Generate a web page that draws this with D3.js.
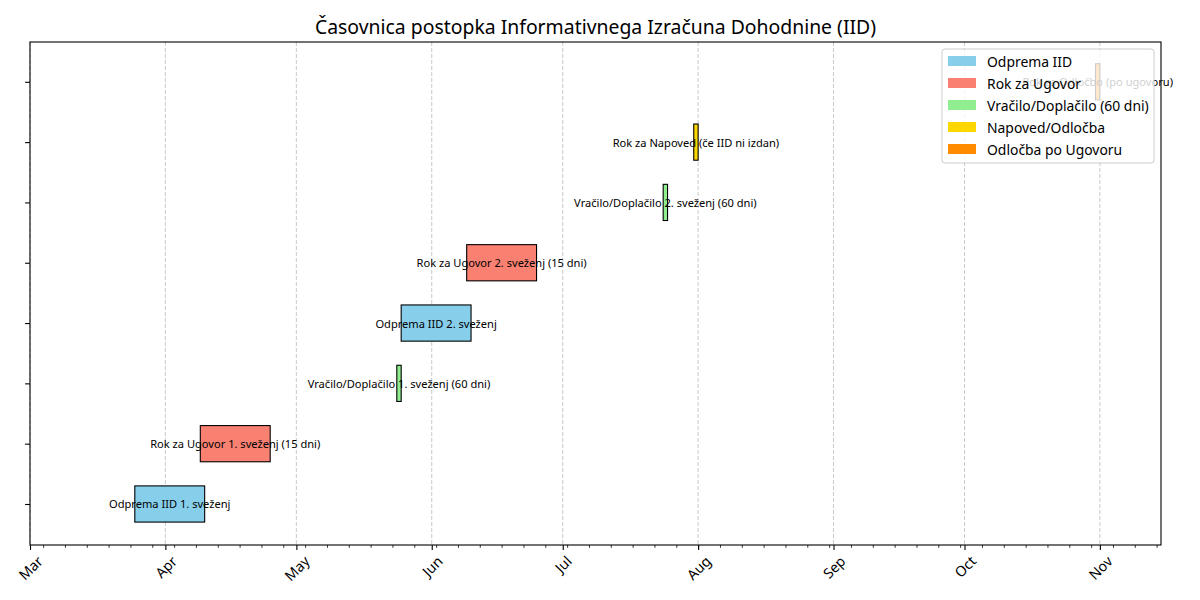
<!DOCTYPE html>
<html>
<head>
<meta charset="utf-8">
<script src="https://cdn.jsdelivr.net/npm/d3@7"></script>
<style>
  body { margin: 0; background: #fff; }
  svg { font-family: "Noto Sans", "DejaVu Sans", sans-serif; }
</style>
</head>
<body>
<svg id="chart" width="1200" height="600"></svg>
<script>
// task labels, one per row (bottom to top)
var taskLabels = [
    "Odprema IID 1. sveženj",
    "Rok za Ugovor 1. sveženj (15 dni)",
    "Vračilo/Doplačilo 1. sveženj (60 dni)",
    "Odprema IID 2. sveženj",
    "Rok za Ugovor 2. sveženj (15 dni)",
    "Vračilo/Doplačilo 2. sveženj (60 dni)",
    "Rok za Napoved (če IID ni izdan)",
    "Rok za Odločbo (po ugovoru)"
];
var startDates = ["2024-03-25", "2024-04-09", "2024-05-24", "2024-05-25",
                  "2024-06-09", "2024-07-24", "2024-07-31", "2024-10-31"];
var durations = [16, 16, 1, 16, 16, 1, 1, 1];
var taskTypes = [0, 1, 2, 0, 1, 2, 3, 4];

// legend
var typeNames = ["Odprema IID", "Rok za Ugovor", "Vračilo/Doplačilo (60 dni)",
                 "Napoved/Odločba", "Odločba po Ugovoru"];
var typeColors = ["#87CEEB", "#FA8072", "#90EE90", "#FFD700", "#FF8C00"];

var monthTicks = ["2024-03-01", "2024-04-01", "2024-05-01", "2024-06-01", "2024-07-01",
                  "2024-08-01", "2024-09-01", "2024-10-01", "2024-11-01"];
var xDomain = ["2024-03-01", "2024-11-15"];

var title = "Časovnica postopka Informativnega Izračuna Dohodnine (IID)";

var parse = d3.utcParse("%Y-%m-%d");

var margin = {left: 30, right: 1161, top: 42, bottom: 545};

var x = d3.scaleUtc()
    .domain(xDomain.map(parse))
    .range([margin.left, margin.right]);

var y = d3.scaleLinear()
    .domain([-0.68, taskLabels.length - 1 + 0.66])
    .range([margin.bottom, margin.top]);

var svg = d3.select("#chart");

var tasks = taskLabels.map(function (d, i) {
    var s = parse(startDates[i]);
    return {label: d, start: s, end: d3.utcDay.offset(s, durations[i]), type: taskTypes[i], row: i};
});

// grid (majors only)
var majors = monthTicks.map(parse);
svg.append("g")
    .selectAll("line")
    .data(majors)
    .enter()
    .append("line")
    .attr("x1", d => x(d)).attr("x2", d => x(d))
    .attr("y1", margin.top).attr("y2", margin.bottom)
    .attr("stroke", "#b0b0b0")
    .attr("stroke-opacity", 0.7)
    .attr("stroke-width", 1)
    .attr("stroke-dasharray", "4,2");

// bars
var barH = y(0) - y(0.6);
svg.append("g")
    .selectAll("rect")
    .data(tasks)
    .enter()
    .append("rect")
    .attr("x", d => x(d.start))
    .attr("width", d => x(d.end) - x(d.start))
    .attr("y", d => y(d.row + 0.3))
    .attr("height", barH)
    .attr("fill", d => typeColors[d.type])
    .attr("stroke", "#000")
    .attr("stroke-width", 1.1);

// bar labels
svg.append("g")
    .selectAll("text")
    .data(tasks)
    .enter()
    .append("text")
    .attr("x", d => (x(d.start) + x(d.end)) / 2)
    .attr("y", d => y(d.row))
    .attr("text-anchor", "middle")
    .attr("dominant-baseline", "central")
    .style("font-size", "11.1px")
    .attr("fill", "#000")
    .text(d => d.label);

// x axis: minor ticks every 5 days
var minorStart = parse("2024-03-04");
var minors = d3.range(0, 60).map(k => d3.utcDay.offset(minorStart, 5 * k))
    .filter(d => d <= x.domain()[1]);

var xAxisG = svg.append("g")
    .attr("transform", "translate(0," + margin.bottom + ")");
xAxisG.call(d3.axisBottom(x).tickValues(minors).tickSize(2.8).tickFormat(""))
    .call(g => g.select(".domain").remove());
xAxisG.selectAll("line").attr("stroke-width", 0.8);

var xMajor = svg.append("g")
    .attr("transform", "translate(0," + margin.bottom + ")")
    .call(d3.axisBottom(x).tickValues(majors).tickSize(4.9).tickFormat(d3.utcFormat("%b")));
xMajor.select(".domain").remove();
xMajor.selectAll("line").attr("stroke-width", 1.1);
xMajor.selectAll("text")
    .style("font-size", "14.2px")
    .style("font-family", "\"Noto Sans\", sans-serif")
    .attr("fill", "#000")
    .each(function () {
        var t = d3.select(this);
        var w = this.getComputedTextLength();
        var h = 14;
        var cy = 4.9 + 3.5 + (w + h) * Math.SQRT1_2 / 2;
        t.attr("y", null).attr("dy", null)
         .attr("text-anchor", "middle")
         .attr("dominant-baseline", "central")
         .attr("transform", "translate(0," + cy + ") rotate(-45)");
    });

// y axis ticks (no labels)
var yAxis = svg.append("g")
    .attr("transform", "translate(" + margin.left + ",0)")
    .call(d3.axisLeft(y).tickValues(d3.range(taskLabels.length)).tickSize(4.9).tickFormat(""));
yAxis.select(".domain").remove();
yAxis.selectAll("line").attr("stroke-width", 1.1);

// frame
svg.append("rect")
    .attr("x", margin.left).attr("y", margin.top)
    .attr("width", margin.right - margin.left)
    .attr("height", margin.bottom - margin.top)
    .attr("fill", "none")
    .attr("stroke", "#000")
    .attr("stroke-width", 1.1);

// title
svg.append("text")
    .attr("x", (margin.left + margin.right) / 2)
    .attr("y", 34)
    .attr("text-anchor", "middle")
    .style("font-size", "19.4px")
    .attr("fill", "#000")
    .text(title);

// legend
var lg = svg.append("g").attr("transform", "translate(942,49)");
lg.append("rect")
    .attr("width", 212).attr("height", 114)
    .attr("rx", 3).attr("ry", 3)
    .attr("fill", "#fff").attr("fill-opacity", 0.8)
    .attr("stroke", "#cccccc").attr("stroke-width", 1);
var items = lg.selectAll("g.item")
    .data(typeNames)
    .enter()
    .append("g")
    .attr("class", "item")
    .attr("transform", (d, i) => "translate(0," + (12 + i * 22) + ")");
items.append("rect")
    .attr("x", 6).attr("y", -5)
    .attr("width", 28).attr("height", 10)
    .attr("fill", (d, i) => typeColors[i]);
items.append("text")
    .attr("x", 45).attr("y", 0)
    .attr("dominant-baseline", "central")
    .style("font-size", "13.9px")
    .attr("fill", "#000")
    .text(d => d);
</script>
</body>
</html>
